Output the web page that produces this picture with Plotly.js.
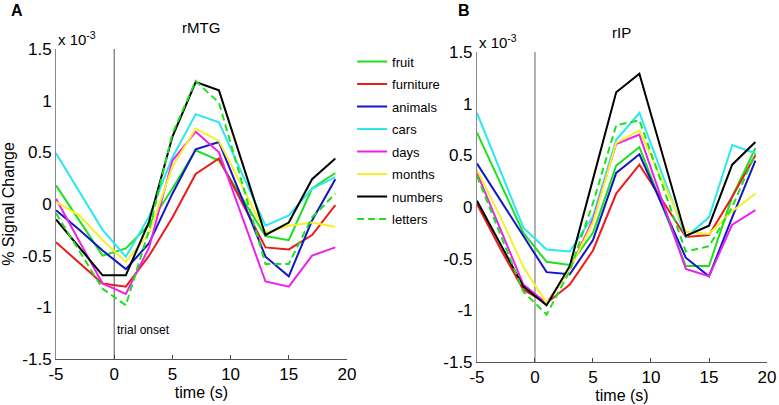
<!DOCTYPE html>
<html>
<head>
<meta charset="utf-8">
<script src="https://cdn.plot.ly/plotly-3.0.1.min.js"></script>
<style>html,body{margin:0;padding:0;background:#fff;}#chart{width:779px;height:405px;}</style>
</head>
<body>
<div id="chart"></div>
<script>
// time (s)
const time = [-5, -3, -1, 1, 3, 5, 7, 9, 11, 13, 15, 17, 19];
const categories = ["fruit", "furniture", "animals", "cars", "days", "months", "numbers", "letters"];

// rMTG (% signal change, x 10^-3)
const rMTG_fruit     = [0.18, -0.16, -0.50, -0.43, -0.20, 0.15, 0.52, 0.42, 0.06, -0.31, -0.35, 0.15, 0.30];
const rMTG_furniture = [-0.37, -0.57, -0.77, -0.80, -0.50, -0.13, 0.29, 0.44, 0.01, -0.42, -0.44, -0.30, -0.01];
const rMTG_animals   = [-0.06, -0.25, -0.45, -0.63, -0.38, 0.10, 0.53, 0.60, 0.05, -0.51, -0.70, -0.16, 0.24];
const rMTG_cars      = [0.49, 0.12, -0.25, -0.51, -0.12, 0.45, 0.87, 0.79, 0.29, -0.21, -0.11, 0.15, 0.26];
const rMTG_days      = [0.05, -0.36, -0.77, -0.87, -0.42, 0.42, 0.70, 0.50, -0.13, -0.75, -0.80, -0.50, -0.42];
const rMTG_months    = [0.02, -0.11, -0.35, -0.56, -0.28, 0.36, 0.73, 0.61, 0.17, -0.28, -0.21, -0.18, -0.22];
const rMTG_numbers   = [-0.15, -0.42, -0.69, -0.69, -0.17, 0.65, 1.18, 1.10, 0.40, -0.30, -0.18, 0.24, 0.44];
const rMTG_letters   = [-0.09, -0.45, -0.82, -0.98, -0.25, 0.68, 1.19, 0.98, 0.20, -0.58, -0.58, -0.13, 0.10];

// rIP (% signal change, x 10^-3)
const rIP_fruit     = [0.72, 0.24, -0.25, -0.53, -0.56, -0.25, 0.40, 0.58, 0.00, -0.57, -0.57, 0.10, 0.57];
const rIP_furniture = [0.03, -0.40, -0.80, -0.93, -0.75, -0.42, 0.13, 0.41, 0.06, -0.29, -0.27, 0.10, 0.50];
const rIP_animals   = [0.42, 0.07, -0.29, -0.63, -0.65, -0.32, 0.33, 0.51, 0.01, -0.49, -0.67, -0.10, 0.45];
const rIP_cars      = [0.91, 0.35, -0.20, -0.41, -0.43, -0.09, 0.65, 0.91, 0.31, -0.29, -0.10, 0.60, 0.52];
const rIP_days      = [0.33, -0.21, -0.75, -0.93, -0.60, -0.12, 0.61, 0.70, 0.05, -0.60, -0.67, -0.17, -0.03];
const rIP_months    = [0.36, -0.09, -0.58, -0.93, -0.60, -0.15, 0.62, 0.74, 0.25, -0.24, -0.26, -0.04, 0.13];
const rIP_numbers   = [0.06, -0.36, -0.77, -0.95, -0.57, 0.27, 1.11, 1.29, 0.50, -0.28, -0.18, 0.41, 0.63];
const rIP_letters   = [0.30, -0.26, -0.82, -1.04, -0.62, 0.04, 0.79, 0.84, 0.20, -0.43, -0.38, 0.00, 0.52];

const yTickVals = [-1.5, -1, -0.5, 0, 0.5, 1, 1.5];
const yTickText = ["-1.5", "-1", "-0.5", "0", "0.5", "1", "1.5"];
const xTickVals = [-5, 0, 5, 10, 15, 20];
const xTickText = ["-5", "0", "5", "10", "15", "20"];

const colors = ["#1ee01e", "#ee1a1a", "#1414c8", "#2ae8ee", "#ec22ec", "#f6f02a", "#000000", "#1ee01e"];
const dashes = ["solid", "solid", "solid", "solid", "solid", "solid", "solid", "7px,4px"];

const leftSeries = [rMTG_fruit, rMTG_furniture, rMTG_animals, rMTG_cars, rMTG_days, rMTG_months, rMTG_numbers, rMTG_letters];
const rightSeries = [rIP_fruit, rIP_furniture, rIP_animals, rIP_cars, rIP_days, rIP_months, rIP_numbers, rIP_letters];

const traces = [];
categories.forEach((name, i) => {
  traces.push({
    x: time, y: leftSeries[i], type: "scatter", mode: "lines", name: name,
    xaxis: "x", yaxis: "y", legendgroup: name, showlegend: true,
    line: {color: colors[i], width: 2, dash: dashes[i]}
  });
});
categories.forEach((name, i) => {
  traces.push({
    x: time, y: rightSeries[i], type: "scatter", mode: "lines", name: name,
    xaxis: "x2", yaxis: "y2", legendgroup: name, showlegend: false,
    line: {color: colors[i], width: 2, dash: dashes[i]}
  });
});

const font = "Liberation Sans, Arial, sans-serif";
const axisCommon = {
  showgrid: false, zeroline: false, mirror: false, showline: true,
  ticks: "inside", ticklen: 4, tickwidth: 1, tickcolor: "#444",
  tickfont: {family: font, size: 17, color: "#000"}
};

const layout = {
  width: 779, height: 405,
  margin: {l: 0, r: 0, t: 0, b: 0},
  paper_bgcolor: "#fff", plot_bgcolor: "rgba(0,0,0,0)",
  font: {family: font, color: "#000"},
  showlegend: true,
  legend: {
    x: 0.452, y: 0.885, xanchor: "left", yanchor: "top",
    font: {family: font, size: 13, color: "#000"},
    bgcolor: "rgba(255,255,255,0)", borderwidth: 0,
    tracegroupgap: 2.6, itemwidth: 30
  },
  xaxis: Object.assign({}, axisCommon, {
    domain: [0.0719, 0.4454], range: [-5, 20], anchor: "y",
    tickvals: xTickVals, ticktext: xTickText, linecolor: "#555",
    title: {text: "time (s)", font: {family: font, size: 16}, standoff: 1}
  }),
  yaxis: Object.assign({}, axisCommon, {
    domain: [0.1136, 0.879], range: [-1.5, 1.5], anchor: "x",
    tickvals: yTickVals, ticktext: yTickText, linecolor: "#888", ticklen: 0,
    title: {text: "% Signal Change", font: {family: font, size: 16}, standoff: 4}
  }),
  xaxis2: Object.assign({}, axisCommon, {
    domain: [0.6123, 0.9846], range: [-5, 20], anchor: "y2",
    tickvals: xTickVals, ticktext: xTickText, linecolor: "#555",
    title: {text: "time (s)", font: {family: font, size: 16}, standoff: 1}
  }),
  yaxis2: Object.assign({}, axisCommon, {
    domain: [0.106, 0.8716], range: [-1.5, 1.5], anchor: "x2",
    tickvals: yTickVals, ticktext: yTickText, linecolor: "#888", ticklen: 0
  }),
  shapes: [
    {type: "line", xref: "x", yref: "y domain", x0: 0, x1: 0, y0: 0, y1: 1, line: {color: "#555", width: 1}, layer: "below"},
    {type: "line", xref: "x2", yref: "y2 domain", x0: 0, x1: 0, y0: 0, y1: 1, line: {color: "#999", width: 1.5}, layer: "below"}
  ],
  annotations: [
    {text: "<b>A</b>", xref: "paper", yref: "paper", x: 0.012, y: 0.975, xanchor: "left", yanchor: "middle", showarrow: false, font: {family: font, size: 16}},
    {text: "<b>B</b>", xref: "paper", yref: "paper", x: 0.585, y: 0.975, xanchor: "left", yanchor: "middle", showarrow: false, font: {family: font, size: 16}},
    {text: "rMTG", xref: "x domain", yref: "paper", x: 0.5, y: 0.933, xanchor: "center", yanchor: "middle", showarrow: false, font: {family: font, size: 15}},
    {text: "rIP", xref: "x2 domain", yref: "paper", x: 0.5, y: 0.92, xanchor: "center", yanchor: "middle", showarrow: false, font: {family: font, size: 15}},
    {text: "x 10<sup>-3</sup>", xref: "x domain", yref: "paper", x: 0.0, y: 0.905, xanchor: "left", yanchor: "middle", showarrow: false, font: {family: font, size: 15}},
    {text: "x 10<sup>-3</sup>", xref: "x2 domain", yref: "paper", x: 0.0, y: 0.898, xanchor: "left", yanchor: "middle", showarrow: false, font: {family: font, size: 15}},
    {text: "trial onset", xref: "x", yref: "paper", x: 0, y: 0.185, xanchor: "left", yanchor: "middle", xshift: 1, showarrow: false, font: {family: font, size: 12}}
  ]
};

Plotly.newPlot("chart", traces, layout, {displayModeBar: false, staticPlot: true});
</script>
</body>
</html>
